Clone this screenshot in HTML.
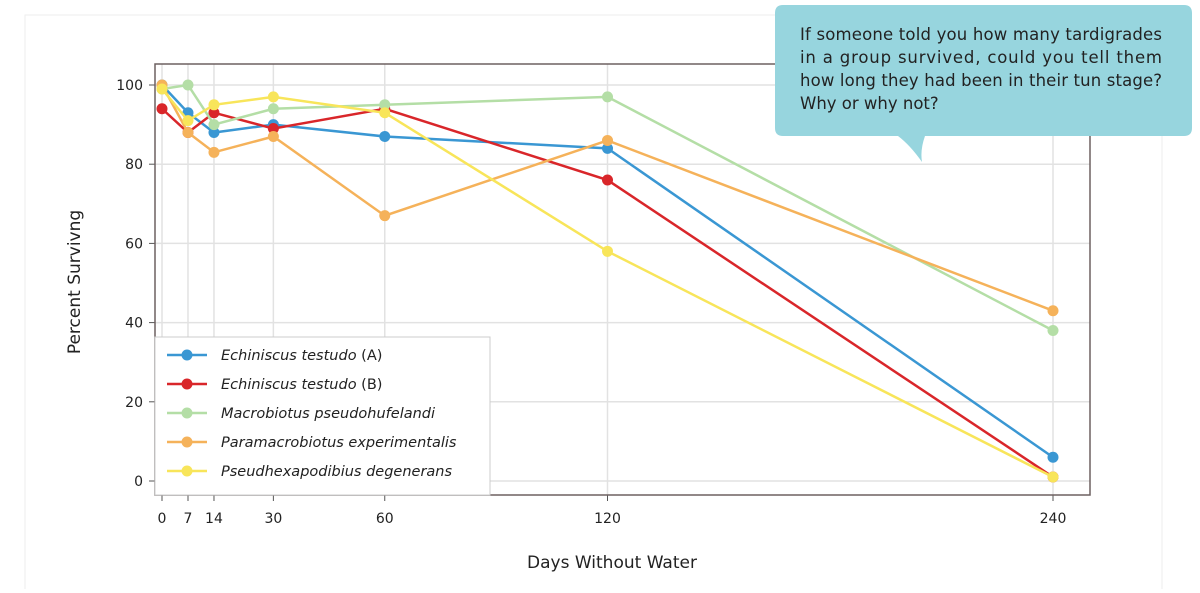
<!DOCTYPE html>
<html><head><meta charset="utf-8"><style>
body{margin:0;background:#fff;width:1200px;height:589px;overflow:hidden;font-family:"DejaVu Sans","Liberation Sans",sans-serif;}
svg text{font-family:"DejaVu Sans","Liberation Sans",sans-serif;}
</style></head><body>
<svg width="1200" height="589">
<rect x="25" y="15" width="1137" height="580" fill="#fff" stroke="#eee"/>
<g id="plot"></g>
<g>
<path d="M783,5 H1184 Q1192,5 1192,13 V128 Q1192,136 1184,136 H925 Q920,150 922,162 Q910,145 898,136 H783 Q775,136 775,128 V13 Q775,5 783,5 Z" fill="#97d5de"/>
<text x="800" y="40" font-size="16.5" fill="#222" textLength="362" lengthAdjust="spacing">If someone told you how many tardigrades</text>
<text x="800" y="63" font-size="16.5" fill="#222" textLength="362" lengthAdjust="spacing">in a group survived, could you tell them</text>
<text x="800" y="86" font-size="16.5" fill="#222" textLength="362" lengthAdjust="spacing">how long they had been in their tun stage?</text>
<text x="800" y="109" font-size="16.5" fill="#222">Why or why not?</text>
</g>
</svg>
<script>
const days=[0,7,14,30,60,120,240];
const seriesNames=["Echiniscus testudo (A)","Echiniscus testudo (B)","Macrobiotus pseudohufelandi","Paramacrobiotus experimentalis","Pseudhexapodibius degenerans"];
const echA=[100,93,88,90,87,84,6];
const echB=[94,88,93,89,94,76,1];
const macro=[99,100,90,94,95,97,38];
const para=[100,88,83,87,67,86,43];
const pseud=[99,91,95,97,93,58,1];
const yTicks=[0,20,40,60,80,100];
const xTicks=[0,7,14,30,60,120,240];
const colors=["#3a97d3","#d9262a","#b4dea6","#f5b25a","#f8e55a"];
const allSeries=[echA,echB,macro,para,pseud];
const X=d=>162+d*(1053-162)/240;
const Y=v=>481-v*3.96;
const NS="http://www.w3.org/2000/svg";
const g=document.getElementById('plot');
function mk(t,a,p){const e=document.createElementNS(NS,t);for(const k in a)e.setAttribute(k,a[k]);(p||g).appendChild(e);return e;}
const L=155,R=1090,T=64,B=495;
mk('rect',{x:L,y:T,width:R-L,height:B-T,fill:'#fff'});
yTicks.forEach(v=>{const l=mk('line',{x1:L,x2:R,y1:Y(v),y2:Y(v),stroke:'#e2e2e2','stroke-width':1.5});

mk('line',{x1:L-6,x2:L,y1:Y(v),y2:Y(v),stroke:'#555'});
const t=mk('text',{x:L-12,y:Y(v)+5,'text-anchor':'end','font-size':14,fill:'#222'});t.textContent=v;
});
xTicks.forEach(d=>{const l=mk('line',{x1:X(d),x2:X(d),y1:T,y2:B,stroke:'#e2e2e2','stroke-width':1.5});

mk('line',{x1:X(d),x2:X(d),y1:B,y2:B+6,stroke:'#555'});
const t=mk('text',{x:X(d),y:B+28,'text-anchor':'middle','font-size':14,fill:'#222'});t.textContent=d;
});
const fr=mk('rect',{x:L,y:T,width:R-L,height:B-T,fill:'none',stroke:'#6d6060','stroke-width':1.5});

allSeries.forEach((s,i)=>{const sg=mk('g',{});

mk('polyline',{points:s.map((v,j)=>X(days[j])+','+Y(v)).join(' '),fill:'none',stroke:colors[i],'stroke-width':2.5},sg);
s.forEach((v,j)=>{const c=mk('circle',{cx:X(days[j]),cy:Y(v),r:5.5,fill:colors[i]},sg);
});});
const lg=mk('g',{});

mk('rect',{x:L,y:337,width:335,height:158,fill:'#fff',stroke:'#ccc'},lg);
seriesNames.forEach((n,i)=>{const y=355+i*29;const e=mk('g',{},lg);

mk('line',{x1:167,x2:207,y1:y,y2:y,stroke:colors[i],'stroke-width':2.5},e);
mk('circle',{cx:187,cy:y,r:5.5,fill:colors[i]},e);
const t=mk('text',{x:221,y:y+5,'font-size':14.5,fill:'#222'},e);
const m=n.match(/^(.*?)( \(.\))?$/);
const a=document.createElementNS(NS,'tspan');a.setAttribute('font-style','italic');a.textContent=m[1];t.appendChild(a);
if(m[2]){const b=document.createElementNS(NS,'tspan');b.textContent=m[2];t.appendChild(b);}});
const xt=mk('text',{x:612,y:568,'text-anchor':'middle','font-size':17,fill:'#222'});xt.textContent='Days Without Water';

const yt=mk('text',{x:0,y:0,'text-anchor':'middle','font-size':17,fill:'#222',transform:'translate(80,282) rotate(-90)'});yt.textContent='Percent Survivng';

</script>
</body></html>
